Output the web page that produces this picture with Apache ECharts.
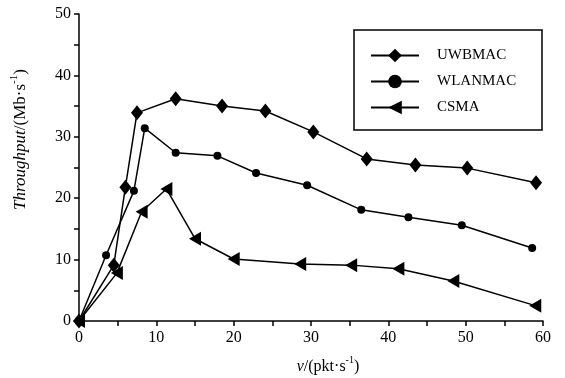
<!DOCTYPE html>
<html lang="en">
<head>
    <meta charset="utf-8">
    <title>Throughput</title>
    <script src="https://cdn.jsdelivr.net/npm/echarts@6/dist/echarts.min.js"></script>
    <style>
        html, body {margin: 0; padding: 0; background: #fff;}
        #chart {width: 565px; height: 378px;}
    </style>
</head>
<body>
<div id="chart"></div>
<script>
    // data
    var seriesNames = ['UWBMAC', 'WLANMAC', 'CSMA'];
    var uwbX = [0, 4.5, 6.0, 7.5, 12.5, 18.5, 24.1, 30.3, 37.2, 43.5, 50.2, 59.1];
    var uwbY = [0, 9.1, 21.8, 33.9, 36.2, 35.0, 34.2, 30.8, 26.4, 25.4, 24.9, 22.5];
    var wlanX = [0, 3.5, 7.1, 8.5, 12.5, 17.9, 22.9, 29.5, 36.5, 42.6, 49.5, 58.6];
    var wlanY = [0, 10.7, 21.2, 31.4, 27.4, 26.9, 24.1, 22.1, 18.1, 16.9, 15.6, 11.9];
    var csmaX = [0, 4.9, 8.1, 11.3, 15.0, 20.0, 28.6, 35.2, 41.3, 48.4, 59.0];
    var csmaY = [0, 7.8, 17.8, 21.5, 13.4, 10.1, 9.3, 9.1, 8.5, 6.5, 2.5];

    function pairs(xs, ys) {
        var out = [];
        for (var i = 0; i < xs.length; i++) {
            out.push([xs[i], ys[i]]);
        }
        return out;
    }

    var font = '"Liberation Serif", "Times New Roman", serif';
    var chart = echarts.init(document.getElementById('chart'), null, {renderer: 'canvas'});

    function makeSeries(name, data, symbol, size) {
        return {
            name: name,
            type: 'line',
            data: data,
            symbol: symbol,
            symbolSize: size,
            showAllSymbol: true,
            lineStyle: {color: '#000', width: 1.5},
            itemStyle: {color: '#000'},
            animation: false
        };
    }

    // rich styles for axis names (italic part, normal part, superscript)
    function nameRich(size) {
        return {
            i: {fontFamily: font, fontSize: size, fontStyle: 'italic', color: '#000', lineHeight: 20, verticalAlign: 'bottom'},
            n: {fontFamily: font, fontSize: size, color: '#000', lineHeight: 20, verticalAlign: 'bottom'},
            s: {fontFamily: font, fontSize: Math.round(size * 0.62), color: '#000', lineHeight: 20, verticalAlign: 'top'}
        };
    }

    var option = {
        backgroundColor: '#fff',
        animation: false,
        grid: {left: 79, right: 22, top: 14, bottom: 57, containLabel: false, outerBoundsMode: 'none'},
        graphic: [{
            type: 'rect',
            shape: {x: 354, y: 30, width: 188, height: 100},
            style: {fill: '#fff', stroke: '#000', lineWidth: 1.5},
            z: 5
        }],
        legend: {
            data: seriesNames,
            orient: 'vertical',
            left: 370,
            top: 48,
            padding: 0,
            itemWidth: 48,
            itemHeight: 17,
            itemGap: 11,
            textStyle: {fontFamily: font, fontSize: 15, color: '#000', padding: [0, 0, 0, 13]},
            z: 10
        },
        xAxis: {
            type: 'value',
            min: 0,
            max: 60,
            interval: 10,
            name: '{i|v}{n|/(pkt·s}{s|-1}{n|)}',
            nameLocation: 'middle',
            nameGap: 34,
            nameTextStyle: {padding: [0, 0, 0, 34], rich: nameRich(16)},
            axisLine: {show: true, lineStyle: {color: '#000', width: 1.5}},
            axisTick: {show: true, inside: false, length: 5, lineStyle: {color: '#000', width: 1.5}},
            minorTick: {show: true, splitNumber: 2, length: 5, lineStyle: {color: '#000', width: 1.5}},
            axisLabel: {fontFamily: font, fontSize: 16, color: '#000', margin: 9},
            splitLine: {show: false}
        },
        yAxis: {
            type: 'value',
            min: 0,
            max: 50,
            interval: 10,
            name: '{i|Throughput}{n|/(Mb·s}{s|-1}{n|)}',
            nameLocation: 'middle',
            nameGap: 50,
            nameRotate: 90,
            nameTextStyle: {padding: [0, 0, 0, 56], rich: nameRich(17)},
            axisLine: {show: true, lineStyle: {color: '#000', width: 1.5}},
            axisTick: {show: true, inside: false, length: 5, lineStyle: {color: '#000', width: 1.5}},
            minorTick: {show: true, splitNumber: 2, length: 5, lineStyle: {color: '#000', width: 1.5}},
            axisLabel: {fontFamily: font, fontSize: 16, color: '#000', margin: 8},
            splitLine: {show: false}
        },
        series: [
            makeSeries(seriesNames[0], pairs(uwbX, uwbY), 'diamond', [12, 15]),
            makeSeries(seriesNames[1], pairs(wlanX, wlanY), 'circle', 8),
            makeSeries(seriesNames[2], pairs(csmaX, csmaY), 'path://M0,5 L10,0 L10,10 Z', [12, 14])
        ]
    };

    chart.setOption(option);
</script>
</body>
</html>
